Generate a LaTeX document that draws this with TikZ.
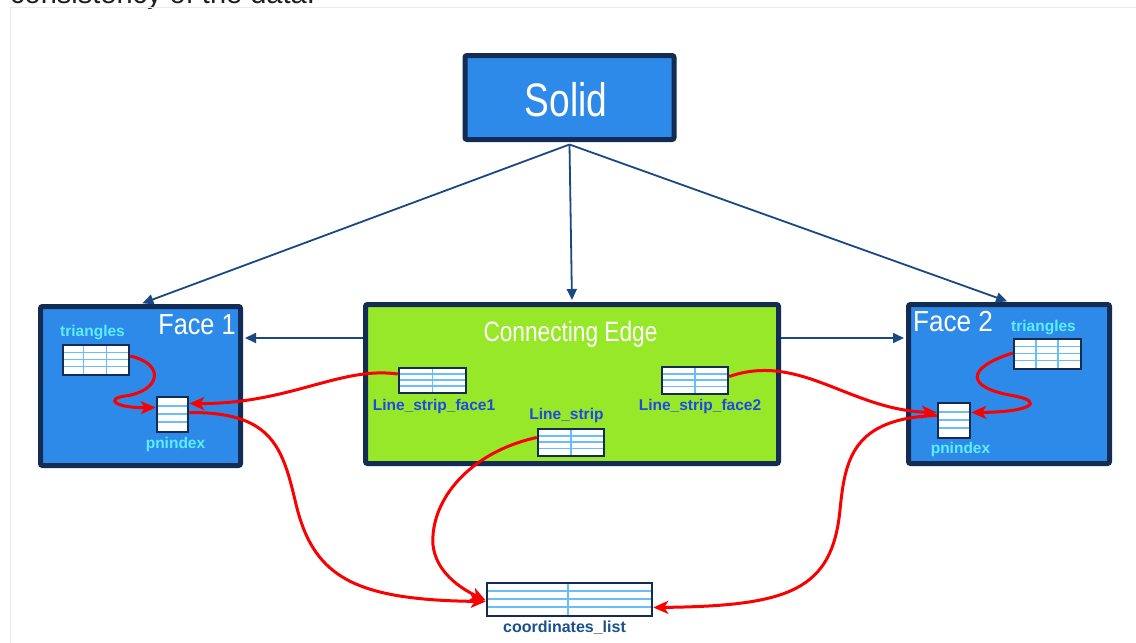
\documentclass[tikz,border=0pt]{standalone}
\usepackage{fontspec}
\setmainfont{Liberation Sans}
\usetikzlibrary{arrows.meta,calc}

\definecolor{boxblue}{RGB}{46,138,232}
\definecolor{navy}{RGB}{18,44,84}
\definecolor{edgegreen}{RGB}{152,232,42}
\definecolor{linknavy}{RGB}{26,72,130}
\definecolor{tcyan}{RGB}{92,238,255}
\definecolor{tblue}{RGB}{32,72,228}
\definecolor{tdark}{RGB}{26,80,140}
\definecolor{rowblue}{RGB}{105,190,250}
\definecolor{ptr}{RGB}{250,0,0}

\newcommand\fsz[1]{\fontsize{#1}{#1}\selectfont}

\begin{document}
\begin{tikzpicture}[x=1pt,y=-1pt,
  panel/.style={draw=navy, line width=5pt, rounded corners=2pt, inner sep=0pt},
  tbl/.style={draw=navy, line width=2.5pt, fill=white, inner sep=0pt,
    path picture={
      \foreach \f in {0.25,0.48,0.72}
        \draw[rowblue, line width=1.6pt]
          ($(path picture bounding box.north west)!\f!(path picture bounding box.south west)$) --
          ($(path picture bounding box.north east)!\f!(path picture bounding box.south east)$);
      \foreach \f in {#1}
        \draw[rowblue, line width=1.6pt]
          ($(path picture bounding box.north west)!\f!(path picture bounding box.north east)$) --
          ($(path picture bounding box.south west)!\f!(path picture bounding box.south east)$);
    }},
  lbl/.style={anchor=base, inner sep=0pt, font=\bfseries\fsz{15.5}},
  title/.style={anchor=base, inner sep=0pt, text=white},
  link/.style={draw=linknavy, line width=1.8pt, shorten >=2pt,
    -{Triangle[length=11pt,width=10pt]}},
  ptrline/.style={draw=ptr, line width=3pt,
    -{Stealth[length=15pt,width=13pt,inset=4pt]}}
]
\fill[white] (0,0) rectangle (1136,643);
\useasboundingbox (0,0) rectangle (1136,643);

% running text above the figure, cut at the top edge
\begin{scope}
  \clip (0,0) rectangle (1136,643);
  \node[anchor=base west, inner sep=0pt, font=\fsz{29}, text=black!88] (caption) at (10,3) {consistency of the data.};
\end{scope}
\draw[black!8, line width=1pt] (10.5,643) -- (10.5,7.5) -- (1136,7.5);

% main boxes
\node[panel, fill=boxblue, minimum width=209pt, minimum height=84pt] (solid) at (569.5,97.5) {};
\node[panel, fill=boxblue, minimum width=200pt, minimum height=159pt] (face1) at (140.5,386) {};
\node[panel, fill=edgegreen, minimum width=413pt, minimum height=159pt] (ce) at (572,384) {};
\node[panel, fill=boxblue, minimum width=201pt, minimum height=159pt] (face2) at (1009,384) {};

\node[title, font=\fsz{47}] at (566,116) {\scalebox{0.79}[1]{Solid}};
\node[title, font=\fsz{29}] at (197,334) {\scalebox{0.87}[1]{Face 1}};
\node[title, font=\fsz{28}] at (570.5,341) {\scalebox{0.81}[1]{Connecting Edge}};
\node[title, font=\fsz{29}] at (953,331) {\scalebox{0.9}[1]{Face 2}};

% tables
\node[tbl={0.31,0.66}, minimum width=66pt, minimum height=30pt] (tri1) at (96,360) {};
\node[tbl={0}, minimum width=31pt, minimum height=35pt] (pn1) at (172.5,414.5) {};
\node[tbl={0.5}, minimum width=67pt, minimum height=25pt] (lsf1) at (432.5,380.5) {};
\node[tbl={0.5}, minimum width=66pt, minimum height=27pt] (ls) at (571,442.5) {};
\node[tbl={0.5}, minimum width=66pt, minimum height=27pt] (lsf2) at (695,380.5) {};
\node[tbl={0.33,0.66}, minimum width=67pt, minimum height=30pt] (tri2) at (1047.5,354) {};
\node[tbl={0}, minimum width=32pt, minimum height=35pt] (pn2) at (954,420.5) {};
\node[tbl={0.49}, minimum width=165pt, minimum height=33pt] (coords) at (569.5,599.5) {};

% table labels
\node[lbl, text=tcyan] at (92.5,336) {triangles};
\node[lbl, text=tcyan] at (175.5,448) {pnindex};
\node[lbl, text=tblue] at (434,410) {Line\_strip\_face1};
\node[lbl, text=tblue] at (566.5,419.5) {Line\_strip};
\node[lbl, text=tblue] at (700,410) {Line\_strip\_face2};
\node[lbl, text=tcyan] at (1043.5,331) {triangles};
\node[lbl, text=tcyan] at (960.5,453.5) {pnindex};
\node[lbl, text=tdark, font=\bfseries\fsz{16}] at (564.5,632) {coordinates\_list};

% ownership links
\draw[link] ([yshift=-2.5pt]solid.south) -- (face1.north);
\draw[link] ([yshift=-2.5pt]solid.south) -- (ce.north);
\draw[link] ([yshift=-2.5pt]solid.south) -- (face2.north);
\draw[link] ([yshift=46pt]ce.west) -- ([yshift=46pt]ce.west -| face1.east);
\draw[link] ([yshift=46pt]ce.east) -- ([yshift=46pt]ce.east -| face2.west);

% index references
\draw[ptrline] ([yshift=4pt]tri1.east) .. controls (168,365) and (158,392) .. (125,396)
  .. controls (105,399) and (115,408) .. ([yshift=7pt]pn1.west);
\draw[ptrline] ([yshift=6.5pt]lsf1.west) .. controls (340,366) and (290,404) .. ([yshift=11pt]pn1.east);
\draw[ptrline] ([yshift=2pt]pn1.east) .. controls (270,412) and (282,445) .. (295,500)
  .. controls (312,575) and (350,600) .. ([yshift=-2pt]coords.west);
\draw[ptrline] ([yshift=5pt]ls.west) .. controls (470,452) and (430,500) .. (433,545)
  .. controls (436,572) and (460,588) .. ([yshift=-1pt]coords.west);
\draw[ptrline] ([yshift=4pt]lsf2.east) .. controls (800,352) and (850,410) .. ([yshift=8pt]pn2.west);
\draw[ptrline] ([yshift=1pt]tri2.west) .. controls (965,368) and (965,388) .. (1015,396)
  .. controls (1045,402) and (1030,412) .. ([yshift=8pt]pn2.east);
\draw[ptrline] ([yshift=5pt]pn2.west) .. controls (852,418) and (845,460) .. (840,510)
  .. controls (832,590) and (790,606) .. ([yshift=-8pt]coords.east);
\end{tikzpicture}
\end{document}
